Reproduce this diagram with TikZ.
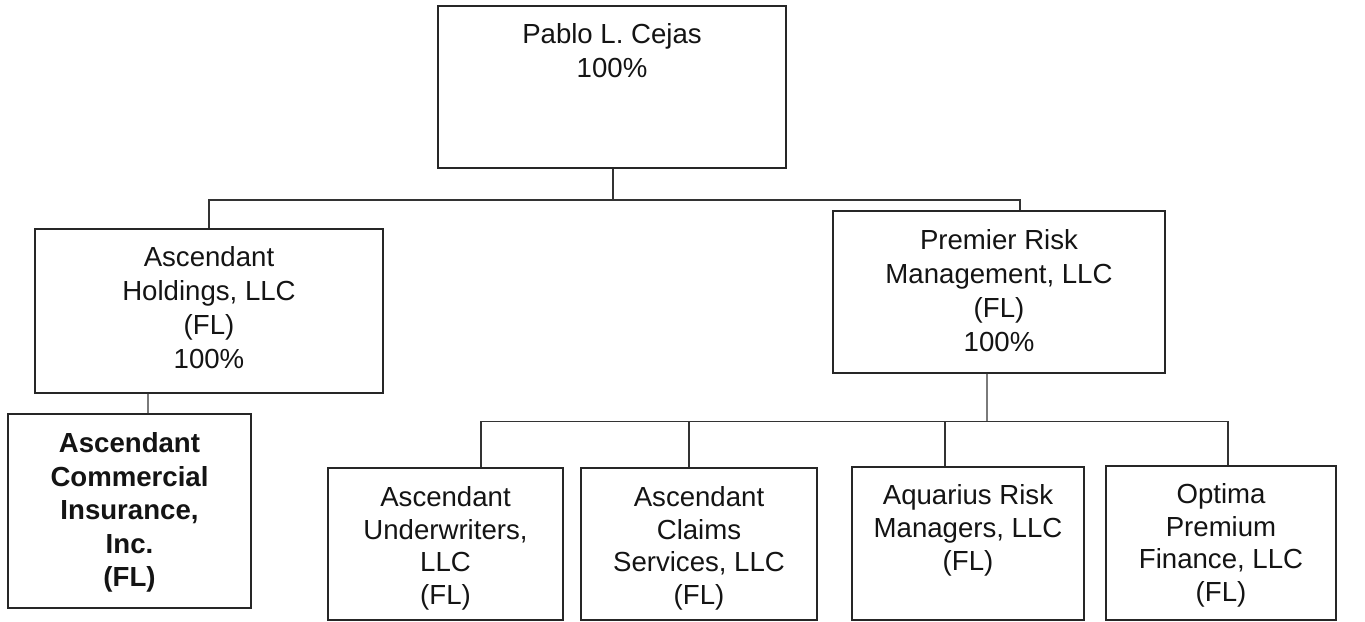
\documentclass[tikz,border=0pt]{standalone}
\usepackage{fontspec}
\setmainfont{Liberation Sans}
\begin{document}
\begin{tikzpicture}[x=1bp,y=-1bp,
  box/.style={draw=black!85, line width=1.4bp, rectangle, inner sep=0pt, fill=none},
  txt/.style={inner sep=0pt, align=center, anchor=north, text=black!92, font=\fontsize{27.6bp}{34bp}\selectfont},
  conn/.style={draw=black!80, line width=1.3bp}]
\useasboundingbox[fill=white] (0,0) rectangle (1365,622);
% boxes
\node[box, minimum width=348bp, minimum height=162bp] (top) at (612,87) {};
\node[box, minimum width=348bp, minimum height=164bp] (ah) at (209,311) {};
\node[box, minimum width=243bp, minimum height=194bp] (aci) at (129.5,511) {};
\node[box, minimum width=332bp, minimum height=162bp] (prm) at (999,292) {};
\node[box, minimum width=235bp, minimum height=152bp] (uw) at (445.5,544) {};
\node[box, minimum width=236bp, minimum height=152bp] (cl) at (699,544) {};
\node[box, minimum width=232bp, minimum height=153bp] (aq) at (968,543.5) {};
\node[box, minimum width=230bp, minimum height=154bp] (opt) at (1221,543) {};
% texts
\node[txt] (ttop) at ([yshift=-18bp]top.north) {Pablo L. Cejas\\100\%};
\node[txt] (tah) at ([yshift=-18bp]ah.north) {Ascendant\\Holdings, LLC\\(FL)\\100\%};
\node[txt, font=\fontsize{27.6bp}{33.5bp}\selectfont\bfseries] (taci) at ([yshift=-19bp]aci.north) {Ascendant\\Commercial\\Insurance,\\Inc.\\(FL)};
\node[txt] (tprm) at ([yshift=-19bp]prm.north) {Premier Risk\\Management, LLC\\(FL)\\100\%};
\node[txt, font=\fontsize{27.6bp}{32.5bp}\selectfont] (tuw) at ([yshift=-19bp]uw.north) {Ascendant\\Underwriters,\\LLC\\(FL)};
\node[txt, font=\fontsize{27.6bp}{32.5bp}\selectfont] (tcl) at ([yshift=-19bp]cl.north) {Ascendant\\Claims\\Services, LLC\\(FL)};
\node[txt, font=\fontsize{27.6bp}{33bp}\selectfont] (taq) at ([yshift=-18bp]aq.north) {Aquarius Risk\\Managers, LLC\\(FL)};
\node[txt, font=\fontsize{27.6bp}{32.5bp}\selectfont] (topt) at ([yshift=-18bp]opt.north) {Optima\\Premium\\Finance, LLC\\(FL)};
% junctions
\coordinate (j1) at (613,200);
\coordinate (j2) at (987,421.5);
% connectors
\draw[conn] ([xshift=1bp]top.south) -- (j1);
\draw[conn] (ah.north) |- (j1) -| ([xshift=21bp]prm.north);
\draw[conn] ([xshift=-61bp]ah.south) -- ([xshift=18.5bp]aci.north);
\draw[conn] ([xshift=-12bp]prm.south) -- (j2);
\draw[conn] ([xshift=35.5bp]uw.north) |- (j2) -| ([xshift=7bp]opt.north);
\draw[conn] ([xshift=-10bp]cl.north) |- (j2);
\draw[conn] ([xshift=-23bp]aq.north) |- (j2);
\end{tikzpicture}
\end{document}
